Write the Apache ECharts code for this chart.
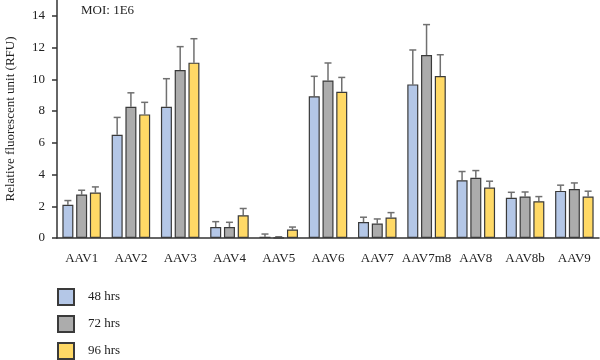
<!DOCTYPE html>
<html><head><meta charset="utf-8">
<script src="https://cdn.jsdelivr.net/npm/echarts@6/dist/echarts.min.js"></script>
<style>html,body{margin:0;padding:0;background:#fff}#c{width:600px;height:360px}</style>
</head><body><div id="c"></div>
<script>
const categories = ['AAV1','AAV2','AAV3','AAV4','AAV5','AAV6','AAV7','AAV7m8','AAV8','AAV8b','AAV9'];
const seriesNames = ['48 hrs','72 hrs','96 hrs'];
const hrs48 = [2.1, 6.5, 8.27, 0.69, 0.08, 8.93, 1.01, 9.68, 3.64, 2.53, 2.97];
const hrs48Err = [0.26, 1.1, 1.77, 0.34, 0.17, 1.26, 0.3, 2.17, 0.55, 0.35, 0.36];
const hrs72 = [2.74, 8.27, 10.59, 0.69, 0.02, 9.93, 0.91, 11.53, 3.79, 2.61, 3.09];
const hrs72Err = [0.27, 0.88, 1.47, 0.3, 0.06, 1.1, 0.29, 1.92, 0.46, 0.29, 0.38];
const hrs96 = [2.87, 7.79, 11.05, 1.43, 0.53, 9.22, 1.29, 10.21, 3.18, 2.32, 2.61];
const hrs96Err = [0.35, 0.76, 1.51, 0.43, 0.16, 0.9, 0.31, 1.34, 0.4, 0.29, 0.34];
const yTicks = [0, 2, 4, 6, 8, 10, 12, 14];
const annotation = 'MOI: 1E6';

const colors = ['#b4c7e7', '#acacac', '#ffd966'];
const values = [hrs48, hrs72, hrs96];
const errs = [hrs48Err, hrs72Err, hrs96Err];
const BW = 11, GAP = 0.25;
const font = '"Liberation Serif", "DejaVu Serif", serif';

const series = [];
values.forEach((v, i) => {
  series.push({
    name: seriesNames[i], type: 'bar', data: v, barWidth: BW, barGap: (GAP*100)+'%',
    itemStyle: { color: colors[i], borderColor: '#3a3a3a', borderWidth: 1.2 }
  });
});
values.forEach((v, i) => {
  const off = (i - 1) * BW * (1 + GAP);
  series.push({
    type: 'custom', name: 'err' + i, z: 1,
    data: v.map((val, k) => [k, val, val + errs[i][k]]),
    renderItem: function (params, api) {
      const lo = api.coord([api.value(0), api.value(1)]);
      const hi = api.coord([api.value(0), api.value(2)]);
      const x = lo[0] + off;
      const s = { stroke: '#707070', lineWidth: 1.5 };
      return { type: 'group', children: [
        { type: 'line', shape: { x1: x, y1: lo[1], x2: x, y2: hi[1] }, style: s },
        { type: 'line', shape: { x1: x - 3.5, y1: hi[1], x2: x + 3.5, y2: hi[1] }, style: s }
      ]};
    }
  });
});

const legends = seriesNames.map((n, i) => ({
  data: [n], orient: 'vertical', left: 57, top: 288 + i * 27, padding: 0,
  itemWidth: 16, itemHeight: 16, icon: 'rect',
  textStyle: { fontFamily: font, fontSize: 13, color: '#222', padding: [0, 0, 0, 9] }
}));

const chart = echarts.init(document.getElementById('c'));
chart.setOption({
  animation: false,
  textStyle: { fontFamily: font },
  grid: { left: 57, right: 1, top: 0, bottom: 122, containLabel: false, outerBoundsMode: 'none' },
  title: { text: annotation, left: 81, top: 4, padding: 0, textStyle: { fontFamily: font, fontSize: 13, fontWeight: 'normal', color: '#222' } },
  legend: legends,
  xAxis: {
    type: 'category', data: categories,
    axisLine: { lineStyle: { color: '#333', width: 1.5 } },
    axisTick: { alignWithLabel: true, length: 5, lineStyle: { color: '#333', width: 1.5 } },
    axisLabel: { fontFamily: font, fontSize: 13, color: '#222', margin: 14, interval: 0 }
  },
  yAxis: {
    type: 'value', min: 0, max: 15, interval: 2,
    name: 'Relative fluorescent unit (RFU)', nameLocation: 'middle', nameGap: 40, nameRotate: 90,
    nameTextStyle: { fontFamily: font, fontSize: 13, color: '#222' },
    axisLine: { show: true, lineStyle: { color: '#333', width: 1.5 } },
    axisTick: { show: true, length: 5, lineStyle: { color: '#333', width: 1.5 }, customValues: yTicks },
    axisLabel: { fontFamily: font, fontSize: 13, color: '#222', margin: 12, customValues: yTicks },
    splitLine: { show: false }
  },
  series: series
});
</script></body></html>
